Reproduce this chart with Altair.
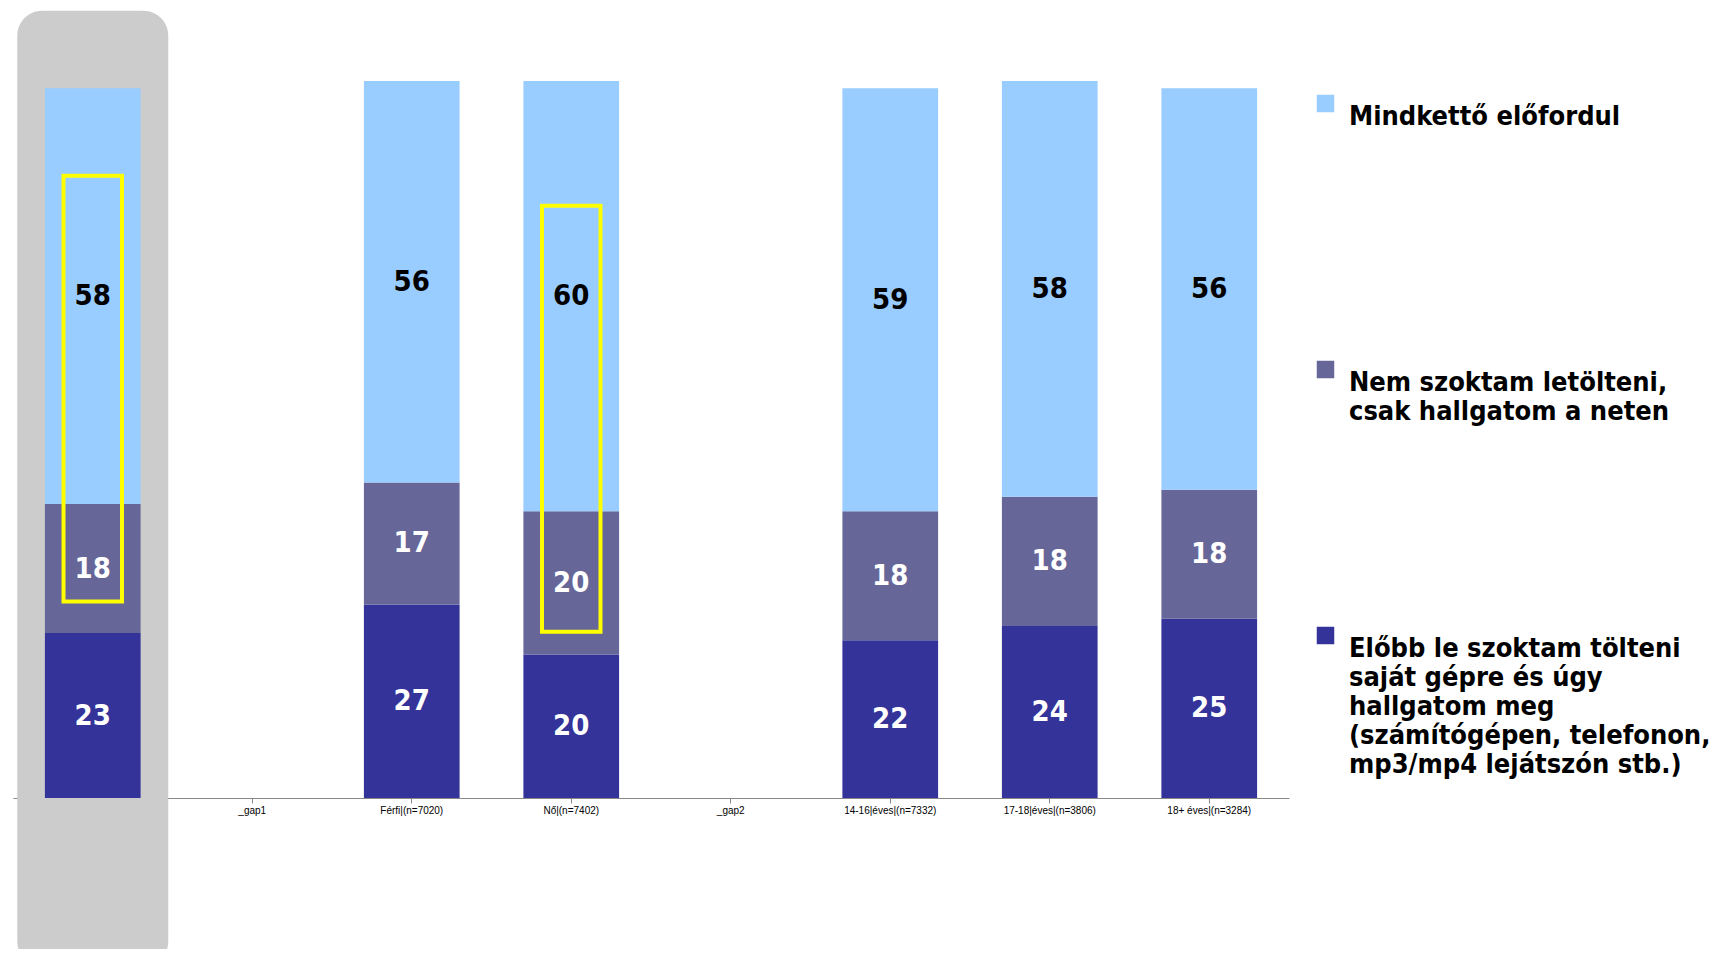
import altair as alt
import pandas as pd

FONT = "DejaVu Sans Condensed, DejaVu Sans"

categories = ["Teljes|minta|(n=14422)", "_gap1", "Férfi|(n=7020)", "Nő|(n=7402)", "_gap2",
              "14-16|éves|(n=7332)", "17-18|éves|(n=3806)", "18+ éves|(n=3284)"]
bar_categories = ["Teljes|minta|(n=14422)", "Férfi|(n=7020)", "Nő|(n=7402)",
                  "14-16|éves|(n=7332)", "17-18|éves|(n=3806)", "18+ éves|(n=3284)"]

series = ["Mindkettő előfordul",
          "Nem szoktam letölteni,|csak hallgatom a neten",
          "Előbb le szoktam tölteni|saját gépre és úgy|hallgatom meg|(számítógépen, telefonon,|mp3/mp4 lejátszón stb.)"]
colors = ["#99CCFF", "#666699", "#333399"]

both = [58, 56, 60, 59, 58, 56]
listen_only = [18, 17, 20, 18, 18, 18]
downloaded = [23, 27, 20, 22, 24, 25]

box_categories = ["Teljes|minta|(n=14422)", "Nő|(n=7402)"]
box_top = [86.8, 82.6]
box_bottom = [27.4, 23.2]

rows = []
for s_name, vals, order in [(series[2], downloaded, 0), (series[1], listen_only, 1), (series[0], both, 2)]:
    for c, v in zip(bar_categories, vals):
        rows.append({"cat": c, "series": s_name, "value": v, "order": order})
df = pd.DataFrame(rows)

xscale = alt.Scale(domain=categories, paddingInner=0, paddingOuter=0)
yscale = alt.Scale(domain=[0, 100])

xaxis = alt.Axis(title=None, labelAngle=0)

X = alt.X("cat:N", scale=xscale, axis=xaxis)

legend = alt.Legend(title=None, orient="none", legendX=1299, legendY=9, padding=0,
                    labelExpr="split(datum.label, '|')",
                    labelFont=FONT, labelFontSize=27, labelFontWeight="bold", labelColor="black",
                    labelBaseline="top", labelOffset=10, labelLimit=0,
                    symbolType="square", symbolSize=306, symbolStrokeWidth=0, symbolOpacity=1,
                    gridAlign="all", rowPadding=110)

highlight_df = pd.DataFrame({"cat": [categories[0]], "top": [109.8], "bottom": [-23.5]})
highlight = alt.Chart(highlight_df).mark_bar(
    color="#CCCCCC", cornerRadius=25, size=151
).encode(x=X, y=alt.Y("top:Q", scale=yscale, axis=None), y2="bottom:Q")

bars = alt.Chart(df).mark_bar(size=95.7).encode(
    x=X,
    y=alt.Y("value:Q", stack="zero", scale=yscale, axis=None),
    color=alt.Color("series:N", scale=alt.Scale(domain=series, range=colors), legend=legend),
    order=alt.Order("order:Q", sort="ascending"),
)

base = alt.Chart(df).transform_stack(
    stack="value", groupby=["cat"], sort=[alt.SortField("order", order="ascending")], as_=["y0", "y1"]
).transform_calculate(mid="(datum.y0 + datum.y1) / 2")

labels_dark = base.transform_filter("datum.order == 2").mark_text(
    font=FONT, fontSize=29, fontWeight="bold", baseline="middle", color="black"
).encode(x=X, y=alt.Y("mid:Q", scale=yscale, axis=None), text=alt.Text("value:Q"))

labels_light = base.transform_filter("datum.order != 2").mark_text(
    font=FONT, fontSize=29, fontWeight="bold", baseline="middle", color="white"
).encode(x=X, y=alt.Y("mid:Q", scale=yscale, axis=None), text=alt.Text("value:Q"))

boxes = alt.Chart(pd.DataFrame({"cat": box_categories, "top": box_top, "bottom": box_bottom})).mark_bar(
    filled=False, stroke="#FFFF00", strokeWidth=4, size=58.5
).encode(x=X, y=alt.Y("top:Q", scale=yscale, axis=None), y2="bottom:Q")

chart = alt.layer(highlight, bars, labels_dark, labels_light, boxes).properties(
    width=1276, height=717,
    autosize=alt.AutoSizeParams(type="none"),
    padding={"left": 5, "top": 73, "right": 424, "bottom": 151},
    background="white",
).configure_view(stroke=None)

chart.save("out.html", embed_options={"renderer": "svg", "actions": False})
